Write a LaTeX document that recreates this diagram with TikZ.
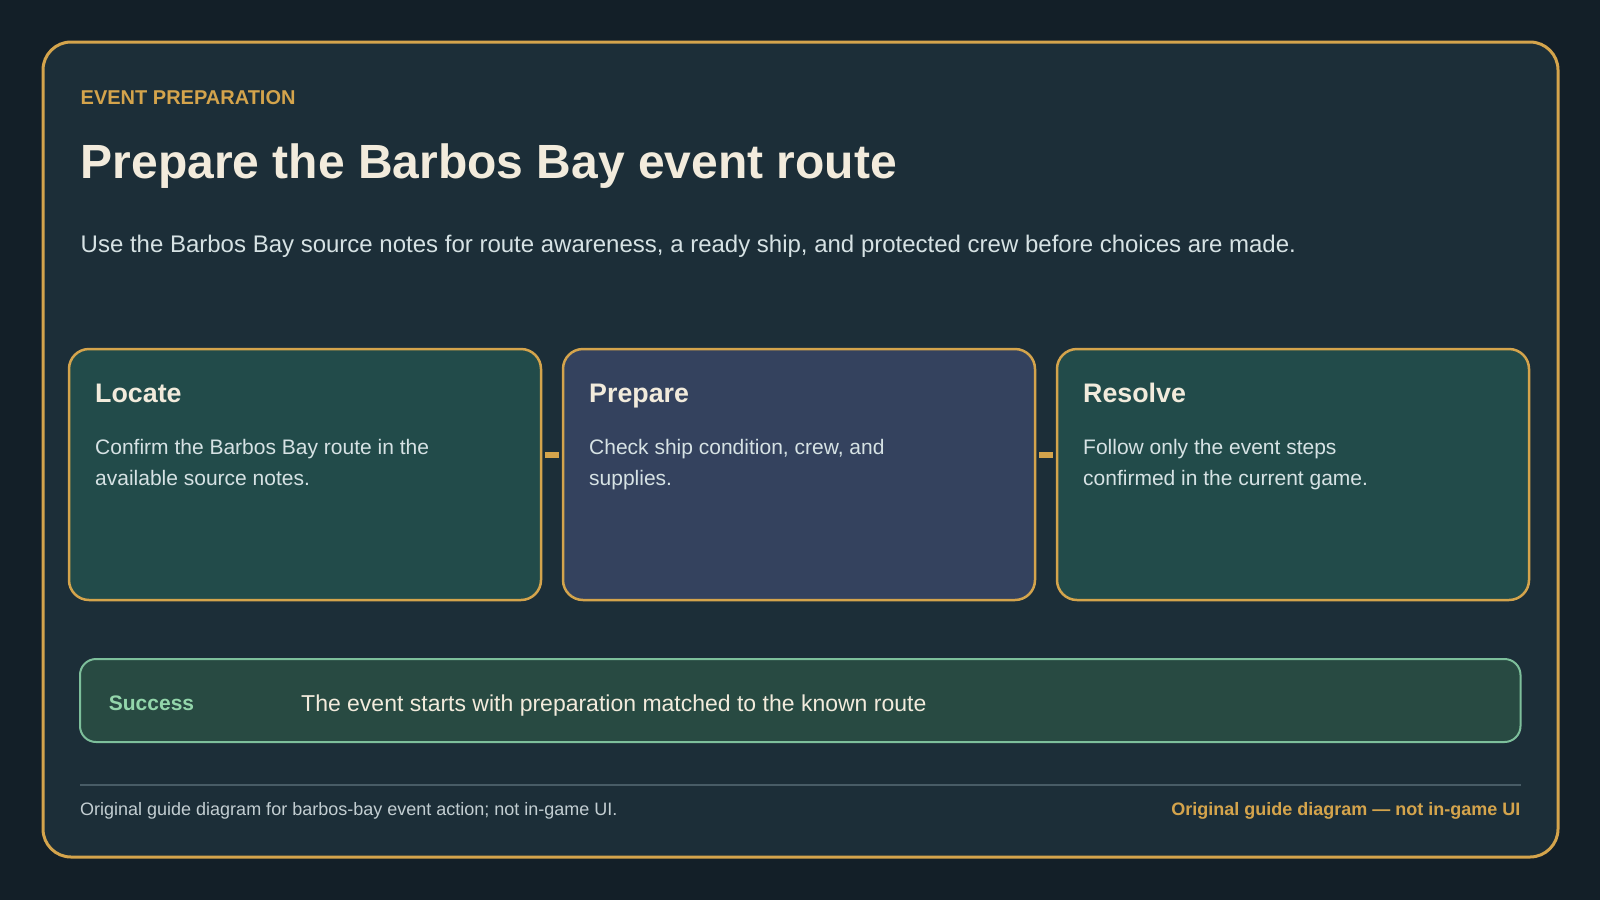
\documentclass[tikz,border=0pt]{standalone}
\usepackage{fontspec}
\setmainfont{Liberation Sans}
\usetikzlibrary{positioning}
\definecolor{pagebg}{HTML}{131F28}
\definecolor{panelbg}{HTML}{1C2E38}
\definecolor{gold}{HTML}{D4A44C}
\definecolor{cream}{HTML}{F2EBDC}
\definecolor{bodytext}{HTML}{D6E2E4}
\definecolor{tealcard}{HTML}{224B4A}
\definecolor{slatecard}{HTML}{34425E}
\definecolor{goalfill}{HTML}{284A42}
\definecolor{goalline}{HTML}{7DBF9B}
\definecolor{goaltext}{HTML}{93D6AB}
\definecolor{rulecol}{HTML}{485C66}
\definecolor{footgrey}{HTML}{C3CED2}

\begin{document}
\begin{tikzpicture}[x=1pt,y=-1pt]

\tikzset{panel/.style = {draw=gold, line width=3pt, fill=panelbg, rounded corners=28pt}}
\tikzset{stepcard/.style = {rectangle, draw=gold, line width=2.5pt, rounded corners=20pt, minimum width=472pt, minimum height=251pt, inner sep=0pt}}
\tikzset{cardtitle/.style = {anchor=base west, inner sep=0pt, text=cream, font=\fontsize{26.8}{31}\selectfont\bfseries}}
\tikzset{cardtext/.style = {anchor=base west, inner sep=0pt, text=bodytext, align=left, font=\fontsize{21}{31}\selectfont}}
\tikzset{link/.style = {draw=gold, line width=6pt, shorten <=3pt, shorten >=3pt}}

%background
\fill[pagebg] (0,0) rectangle (1600,900);
\useasboundingbox (0,0) rectangle (1600,900);
\draw[panel] (43,42) rectangle (1558,857);

%heading
\node[anchor=base west, inner sep=0pt, text=gold, font=\fontsize{20}{24}\selectfont\bfseries] (kicker) at (80.5,104.5) {EVENT PREPARATION};
\node[anchor=base west, inner sep=0pt, text=cream, font=\fontsize{48}{58}\selectfont\bfseries] (title) at (80.5,178) {Prepare the Barbos Bay event route};
\node[anchor=base west, inner sep=0pt, text=bodytext, font=\fontsize{24}{29}\selectfont] (lead) at (80.5,252) {Use the Barbos Bay source notes for route awareness, a ready ship, and protected crew before choices are made.};

%cards
\node[stepcard, fill=tealcard] (c1) at (305,474.5) {};
\node[stepcard, fill=slatecard] (c2) at (799,474.5) {};
\node[stepcard, fill=tealcard] (c3) at (1293,474.5) {};

\node[cardtitle] (t1) at (95,402) {Locate};
\node[cardtitle] (t2) at (589,402) {Prepare};
\node[cardtitle] (t3) at (1083,402) {Resolve};

% base sits on the last line
\node[cardtext] (d1) at (95,485) {Confirm the Barbos Bay route in the\\available source notes.};
\node[cardtext] (d2) at (589,485) {Check ship condition, crew, and\\supplies.};
\node[cardtext] (d3) at (1083,485) {Follow only the event steps\\confirmed in the current game.};

%links
\draw[link] ([yshift=19.5pt]c1.east) -- ([yshift=19.5pt]c2.west);
\draw[link] ([yshift=19.5pt]c2.east) -- ([yshift=19.5pt]c3.west);

%success row
\node[rectangle, draw=goalline, line width=2pt, fill=goalfill, rounded corners=16pt, minimum width=1440.5pt, minimum height=83pt, inner sep=0pt] (goal) at (800.25,700.5) {};
\node[anchor=base west, inner sep=0pt, text=goaltext, font=\fontsize{21}{25}\selectfont\bfseries] (goallabel) at (108.7,710.7) {Success};
\node[anchor=base west, inner sep=0pt, text=cream, font=\fontsize{23}{27}\selectfont] (goaltxt) at (301,711) {The event starts with preparation matched to the known route};

%footer
\coordinate (ruleL) at (80,785);
\coordinate (ruleR) at (1520.5,785);
\draw[rulecol, line width=1.5pt] (ruleL) -- (ruleR);
\node[anchor=base west, inner sep=0pt, text=footgrey, font=\fontsize{18}{21}\selectfont] (footL) at (80,815) {Original guide diagram for barbos-bay event action; not in-game UI.};
\node[anchor=base east, inner sep=0pt, text=gold, font=\fontsize{18}{21}\selectfont\bfseries] (footR) at (1520.5,815) {Original guide diagram — not in-game UI};

\end{tikzpicture}
\end{document}
